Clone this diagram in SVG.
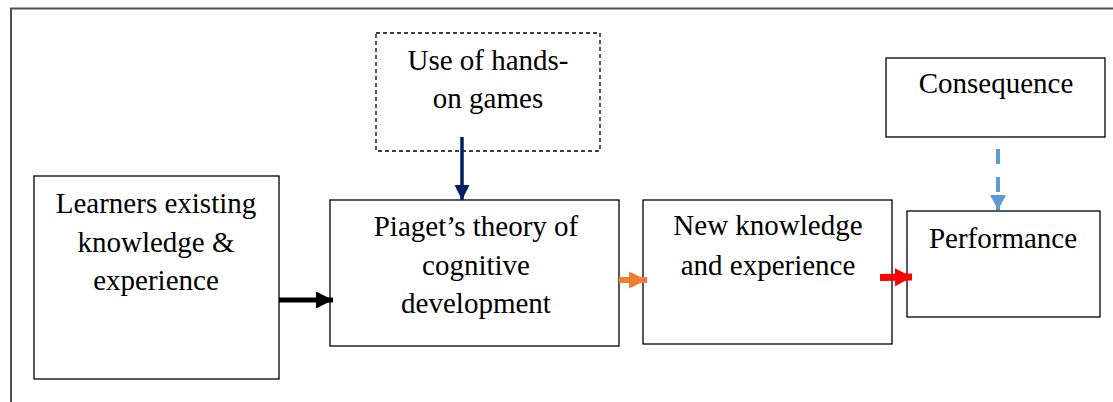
<svg xmlns="http://www.w3.org/2000/svg" width="1113" height="402" viewBox="0 0 1113 402">
  <style>
    .box { fill: #ffffff; stroke: #000000; stroke-width: 1.3; }
    .dashed { stroke-dasharray: 4 3; }
    .label { font-family: "Liberation Serif", "Times New Roman", serif; font-size: 29px; fill: #000000; text-anchor: middle; }
    .frame { fill: none; stroke: #505050; stroke-width: 2; }
  </style>
  <defs>
    <marker id="head-black" markerUnits="userSpaceOnUse" markerWidth="18" markerHeight="18" refX="17" refY="9" orient="auto">
      <polygon points="0,0.5 17,9 0,17.5" fill="#000000"/>
    </marker>
    <marker id="head-navy" markerUnits="userSpaceOnUse" markerWidth="16" markerHeight="16" refX="15" refY="7.5" orient="auto">
      <polygon points="0,0 15,7.5 0,15" fill="#002060"/>
    </marker>
    <marker id="head-orange" markerUnits="userSpaceOnUse" markerWidth="18" markerHeight="18" refX="18" refY="9" orient="auto">
      <polygon points="0,0.5 18,9 0,17.5" fill="#ED7D31"/>
    </marker>
    <marker id="head-red" markerUnits="userSpaceOnUse" markerWidth="18" markerHeight="20" refX="17" refY="9.5" orient="auto">
      <polygon points="0,0.5 17,9.5 0,18.5" fill="#FF0000"/>
    </marker>
    <marker id="head-blue" markerUnits="userSpaceOnUse" markerWidth="16" markerHeight="16" refX="15" refY="8" orient="auto">
      <polygon points="0,0 15,8 0,16" fill="#5B9BD5"/>
    </marker>
  </defs>

  <rect width="1113" height="402" fill="#ffffff"/>

  <!-- outer border, open at the right and bottom -->
  <path class="frame" d="M11,402 V8.5 H1113"/>

  <g id="node-learners">
    <rect class="box" x="34" y="176" width="245" height="203"/>
    <text class="label" x="156" y="213">Learners existing</text>
    <text class="label" x="156" y="252">knowledge &amp;</text>
    <text class="label" x="156" y="290">experience</text>
  </g>

  <g id="node-hands-on">
    <rect class="box dashed" x="376" y="33" width="224" height="118"/>
    <text class="label" x="488" y="70">Use of hands-</text>
    <text class="label" x="488" y="108">on games</text>
  </g>

  <g id="node-piaget">
    <rect class="box" x="330" y="200" width="289" height="146"/>
    <text class="label" x="476" y="236">Piaget’s theory of</text>
    <text class="label" x="476" y="275">cognitive</text>
    <text class="label" x="476" y="313">development</text>
  </g>

  <g id="node-new-knowledge">
    <rect class="box" x="643" y="200" width="249" height="144"/>
    <text class="label" x="768" y="235">New knowledge</text>
    <text class="label" x="768" y="275">and experience</text>
  </g>

  <g id="node-consequence">
    <rect class="box" x="886" y="58" width="219" height="79"/>
    <text class="label" x="996" y="93">Consequence</text>
  </g>

  <g id="node-performance">
    <rect class="box" x="907" y="211" width="193" height="106"/>
    <text class="label" x="1003" y="248">Performance</text>
  </g>

  <g id="connectors">
    <line x1="279" y1="300" x2="333" y2="300" stroke="#000000" stroke-width="5" marker-end="url(#head-black)"/>
    <line x1="462" y1="137" x2="462" y2="200" stroke="#002060" stroke-width="3.5" marker-end="url(#head-navy)"/>
    <line x1="619" y1="280" x2="647" y2="280" stroke="#ED7D31" stroke-width="6" marker-end="url(#head-orange)"/>
    <line x1="880" y1="277.5" x2="912" y2="277" stroke="#FF0000" stroke-width="7" marker-end="url(#head-red)"/>
    <line x1="998" y1="149" x2="998" y2="210" stroke="#5B9BD5" stroke-width="4" stroke-dasharray="15 13" marker-end="url(#head-blue)"/>
  </g>
</svg>
